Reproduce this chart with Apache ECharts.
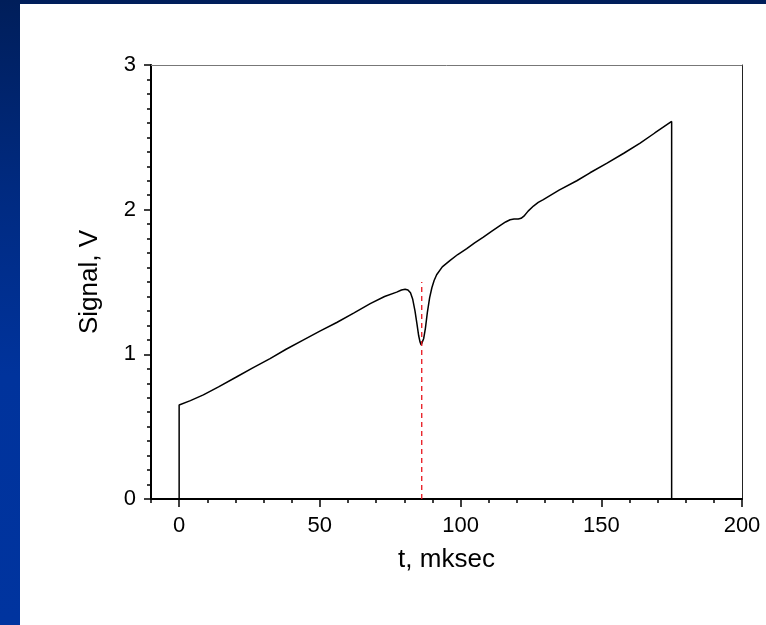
<!DOCTYPE html>
<html>
<head>
<meta charset="utf-8">
<script src="https://cdn.jsdelivr.net/npm/echarts@6/dist/echarts.min.js"></script>
<style>
html,body{margin:0;padding:0;width:766px;height:625px;overflow:hidden;}
#bg{position:absolute;left:0;top:0;width:766px;height:625px;background:linear-gradient(to bottom,#001e5a 0%,#002a80 30%,#00339c 60%,#00349f 100%);}
#paper{position:absolute;left:20px;top:4px;width:746px;height:621px;background:#fff;}
#chart{position:absolute;left:0;top:0;width:766px;height:625px;}
</style>
</head>
<body>
<div id="bg"></div>
<div id="paper"></div>
<div id="chart"></div>
<script>
// Signal trace: time (mksec) and signal (V)
var tValues = [0, 0, 4, 8.6, 14, 20.5, 26, 32.3, 38, 44.2, 50, 56, 62, 67.9, 73, 77.3, 79, 80.3, 81.3, 82.2, 83, 83.8, 84.5, 85.1, 85.6, 86, 86.4, 86.9, 87.5, 88.2, 89, 89.8, 90.6, 91.5, 93.5, 96.3, 99, 102.2, 105, 108.1, 111, 114, 116, 117.6, 119, 120.5, 121.5, 122.5, 124, 125.9, 127.6, 129.4, 135, 141.3, 146, 151.9, 158, 163.8, 169, 175, 175];
var vValues = [0, 0.65, 0.68, 0.72, 0.775, 0.845, 0.905, 0.97, 1.035, 1.10, 1.16, 1.22, 1.285, 1.35, 1.40, 1.43, 1.445, 1.45, 1.445, 1.425, 1.38, 1.30, 1.21, 1.13, 1.085, 1.065, 1.07, 1.11, 1.18, 1.29, 1.39, 1.46, 1.51, 1.55, 1.605, 1.65, 1.69, 1.73, 1.77, 1.81, 1.85, 1.89, 1.915, 1.93, 1.935, 1.935, 1.94, 1.955, 1.99, 2.025, 2.05, 2.07, 2.135, 2.20, 2.255, 2.32, 2.39, 2.46, 2.53, 2.61, 0];
// Marker line (dashed) position
var markerT = 86.2;
var markerV = [0, 1.5];
// Axis ticks
var xMajorTicks = [0, 50, 100, 150, 200];
var yMajorTicks = [0, 1, 2, 3];

var curve = tValues.map(function (t, i) { return [t, vValues[i]]; });
var marker = markerV.map(function (v) { return [markerT, v]; });

var chart = echarts.init(document.getElementById('chart'), null, {renderer: 'canvas'});
var font = 'Liberation Sans, Arial, sans-serif';
chart.setOption({
  backgroundColor: 'transparent',
  animation: false,
  grid: {left: 151, top: 65, right: 24, bottom: 126},
  xAxis: [
    {
      type: 'value', min: -10, max: 200, position: 'bottom',
      name: 't, mksec', nameLocation: 'middle', nameGap: 48,
      nameTextStyle: {color: '#000', fontSize: 26, fontFamily: font},
      axisLine: {show: true, onZero: false, lineStyle: {color: '#000', width: 2}},
      axisTick: {show: true, inside: false, length: 8, customValues: xMajorTicks, lineStyle: {color: '#000', width: 1.5}},
      axisLabel: {show: true, margin: 16, customValues: xMajorTicks, color: '#000', fontSize: 22, fontFamily: font},
      splitLine: {show: false}
    },
    {
      type: 'value', min: -10, max: 200, interval: 10, position: 'bottom',
      axisLine: {show: false, onZero: false},
      axisTick: {show: true, inside: false, length: 4, lineStyle: {color: '#000', width: 1.5}},
      axisLabel: {show: false},
      splitLine: {show: false}
    },
    {
      type: 'value', min: -10, max: 200, position: 'top',
      axisLine: {show: true, onZero: false, lineStyle: {color: '#777', width: 1}},
      axisTick: {show: false}, axisLabel: {show: false}, splitLine: {show: false}
    }
  ],
  yAxis: [
    {
      type: 'value', min: 0, max: 3, interval: 1, position: 'left',
      name: 'Signal, V', nameLocation: 'middle', nameGap: 48,
      nameTextStyle: {color: '#000', fontSize: 26, fontFamily: font},
      axisLine: {show: true, onZero: false, lineStyle: {color: '#000', width: 2}},
      axisTick: {show: true, inside: false, length: 7, lineStyle: {color: '#000', width: 1.5}},
      minorTick: {show: true, splitNumber: 10, length: 4, lineStyle: {color: '#000', width: 1.5}},
      axisLabel: {show: true, margin: 15, color: '#000', fontSize: 22, fontFamily: font,
        customValues: yMajorTicks},
      splitLine: {show: false}
    },
    {
      type: 'value', min: 0, max: 3, position: 'right',
      axisLine: {show: true, onZero: false, lineStyle: {color: '#222', width: 1}},
      axisTick: {show: false}, axisLabel: {show: false}, splitLine: {show: false}
    }
  ],
  series: [
    {
      type: 'line', xAxisIndex: 0, yAxisIndex: 0, data: curve,
      showSymbol: false, symbol: 'none', smooth: false,
      lineStyle: {color: '#000', width: 1.5}
    },
    {
      type: 'line', xAxisIndex: 0, yAxisIndex: 0, data: marker,
      showSymbol: false, symbol: 'none',
      lineStyle: {color: '#e8141c', width: 1.3, type: [5, 4]}
    }
  ]
});
</script>
</body>
</html>
